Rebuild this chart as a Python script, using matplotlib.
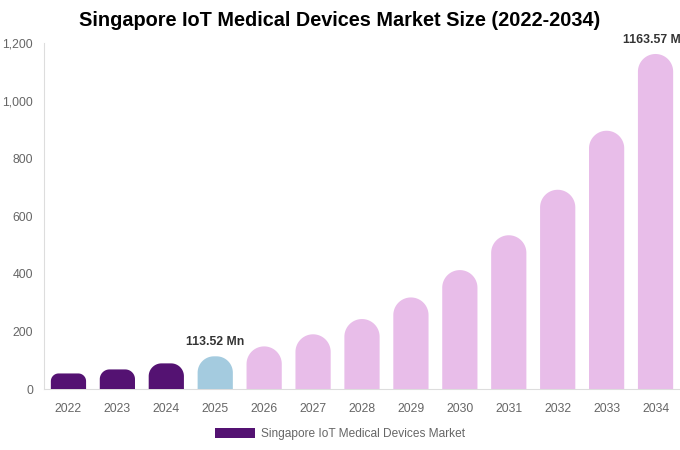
import numpy as np
import matplotlib
matplotlib.use("Agg")
import matplotlib.pyplot as plt
from matplotlib.path import Path
from matplotlib.patches import PathPatch, Patch
from matplotlib.transforms import IdentityTransform

plt.rcParams['font.family'] = ['Liberation Sans', 'DejaVu Sans']

years = ['2022', '2023', '2024', '2025', '2026', '2027', '2028', '2029',
         '2030', '2031', '2032', '2033', '2034']
values = [54, 68, 89, 113.52, 148, 190, 243, 318, 413, 534, 692, 897, 1163.57]
bar_colors = ['#541272', '#541272', '#541272', '#a4cbdf'] + ['#e8bde9'] * 9
labels = {3: '113.52 Mn', 12: '1163.57 Mn'}
series_name = 'Singapore IoT Medical Devices Market'
title = 'Singapore IoT Medical Devices Market Size (2022-2034)'

DPI = 100
fig = plt.figure(figsize=(6.8, 4.5), dpi=DPI)
ax = fig.add_axes([44 / 680, 61 / 450, 636 / 680, 345.5 / 450])

x = np.arange(len(years))
bars = ax.bar(x, values, width=0.72, color=bar_colors)
ax.set_xlim(-0.5, len(years) - 0.5)
ax.set_ylim(0, 1200)
ax.set_yticks([0, 200, 400, 600, 800, 1000, 1200])
ax.set_yticklabels(['0', '200', '400', '600', '800', '1,000', '1,200'])
ax.set_xticks(x)
ax.set_xticklabels(years)
ax.tick_params(axis='both', length=0, labelsize=8.8, colors='#666666')
ax.tick_params(axis='y', pad=8)
ax.tick_params(axis='x', pad=10)
for s in ['top', 'right']:
    ax.spines[s].set_visible(False)
for s in ['left', 'bottom']:
    ax.spines[s].set_color('#dddddd')
    ax.spines[s].set_linewidth(0.8)

for i, txt in labels.items():
    ax.annotate(txt, xy=(x[i], values[i]), xytext=(0, 6), textcoords='offset points',
                ha='center', va='bottom', fontsize=8.8, fontweight='bold', color='#333333',
                annotation_clip=False)

fig.text(0.5, 1 - 21 / 450, title, ha='center', va='center', fontsize=14.3,
         fontweight='bold', color='#000000')

ax.legend(handles=[Patch(facecolor='#541272', edgecolor='none')], labels=[series_name],
          loc='center', bbox_to_anchor=(0.5, 1 - 434 / 450), bbox_transform=fig.transFigure,
          frameon=False, fontsize=8.6, handlelength=3.3, handleheight=0.9,
          labelcolor='#666666', handletextpad=0.5)

# rounded-top bars drawn from each bar's geometry
fig.canvas.draw()
for b in bars:
    (x0, y0), (x1, y1) = ax.transData.transform([(b.get_x(), 0),
                                                 (b.get_x() + b.get_width(), b.get_height())])
    w = x1 - x0
    h = y1 - y0
    r = min(w / 2, h / 2)
    t1 = np.linspace(np.pi, np.pi / 2, 20)
    t2 = np.linspace(np.pi / 2, 0, 20)
    pts = [(x0, y0), (x0, y1 - r)]
    pts += [(x0 + r + r * np.cos(t), y1 - r + r * np.sin(t)) for t in t1]
    pts += [(x1 - r + r * np.cos(t), y1 - r + r * np.sin(t)) for t in t2]
    pts += [(x1, y0), (x0, y0)]
    path = Path(pts)
    patch = PathPatch(path, facecolor=b.get_facecolor(), edgecolor='none',
                      transform=IdentityTransform())
    fig.add_artist(patch)
    b.set_visible(False)

fig.savefig('out.png', dpi=DPI)
